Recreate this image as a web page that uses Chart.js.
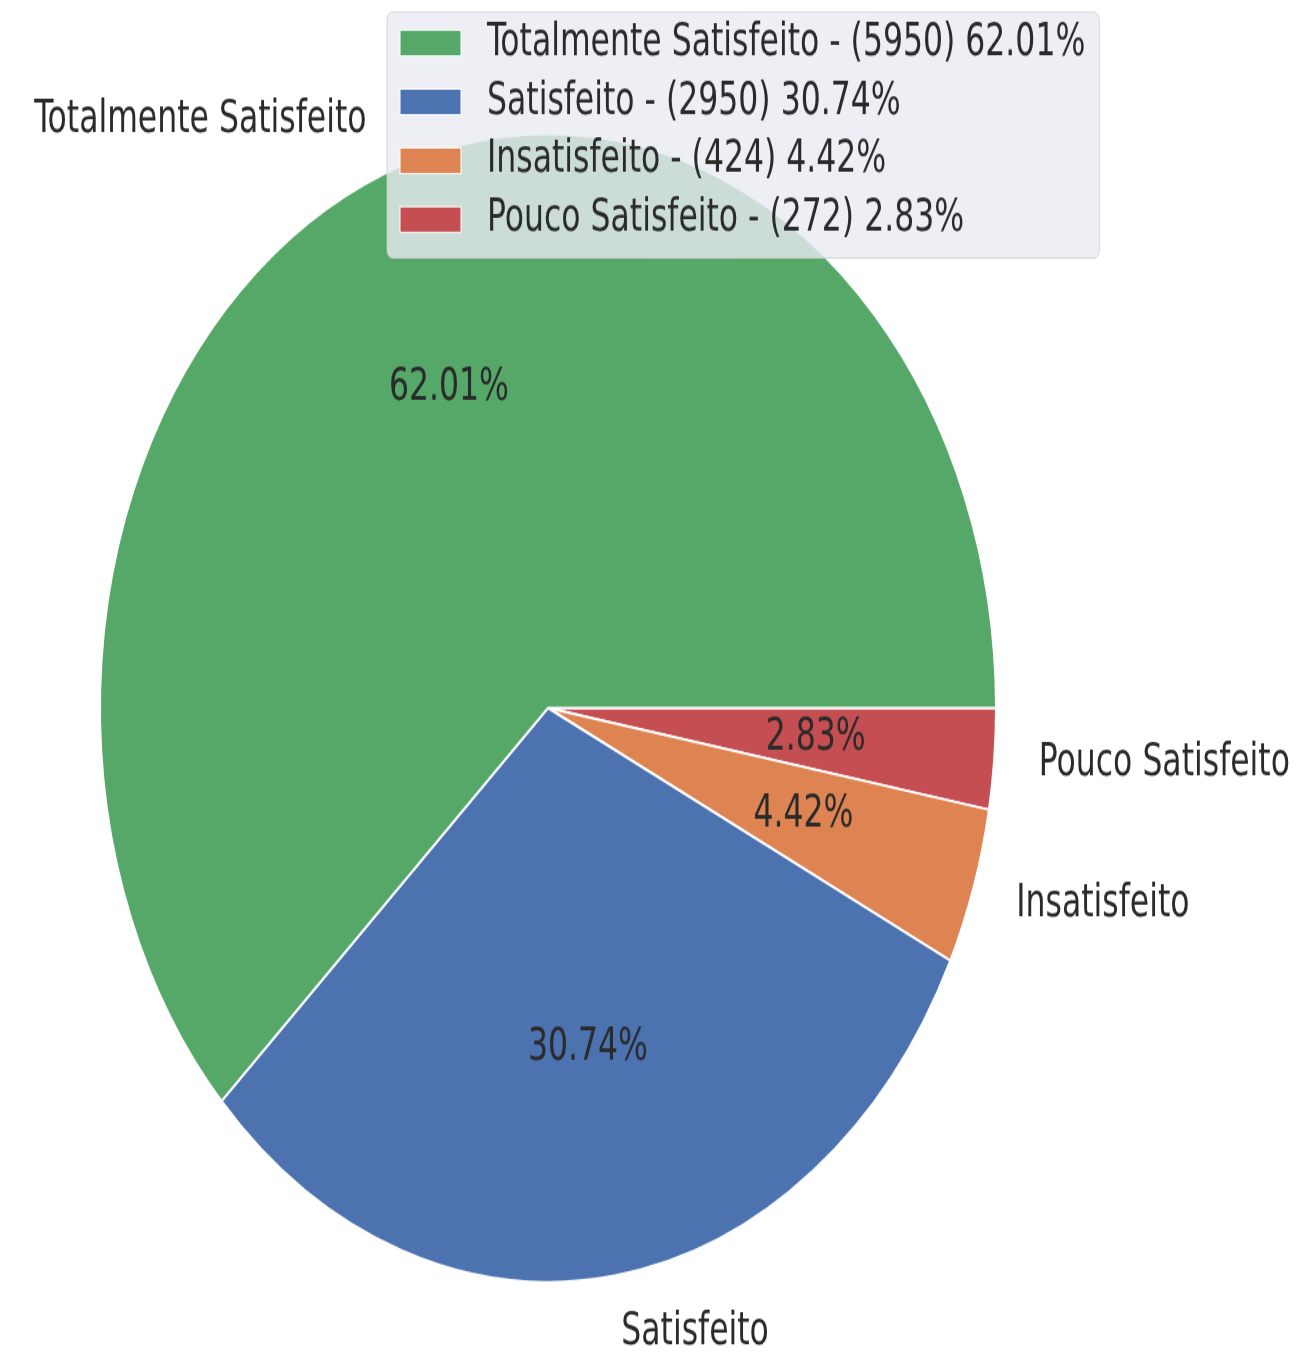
<!DOCTYPE html>
<html lang="pt">
<head>
<meta charset="utf-8">
<title>Satisfação</title>
<style>
  html, body { margin: 0; padding: 0; background: #fff; overflow: hidden; }
  /* the reference picture is stretched vertically, so the whole canvas is too */
  #pie { position: absolute; left: 0; top: 0; transform: scaleY(1.2814); transform-origin: 0 0; }
</style>
</head>
<body>
<canvas id="pie" width="1300" height="1059"></canvas>

<script src="https://cdn.jsdelivr.net/npm/chart.js@4/dist/chart.umd.min.js"></script>
<script>
// data, in the order the legend shows it
const categories = ['Totalmente Satisfeito', 'Satisfeito', 'Insatisfeito', 'Pouco Satisfeito'];
const counts = [5950, 2950, 424, 272];
const colors = ['#55A868', '#4C72B0', '#DD8452', '#C44E52'];

const total = counts.reduce((a, b) => a + b, 0);
const pcts = counts.map(v => (v / total * 100).toFixed(2));

const FONT = '35px "DejaVu Sans Condensed", "DejaVu Sans", sans-serif';
const TEXT = '#2a2a2a';

// matplotlib goes counter-clockwise from 3 o'clock, Chart.js goes clockwise,
// so feed the slices reversed
const order = categories.map((_, i) => categories.length - 1 - i);

const labelsPlugin = {
  id: 'pieLabels',
  afterDatasetsDraw(chart) {
    const ctx = chart.ctx;
    const meta = chart.getDatasetMeta(0);
    ctx.save();
    ctx.font = FONT;
    ctx.fillStyle = TEXT;
    ctx.textBaseline = 'middle';
    meta.data.forEach((arc, j) => {
      const i = order[j];
      const p = arc.getProps(['x', 'y', 'startAngle', 'endAngle', 'outerRadius']);
      const mid = (p.startAngle + p.endAngle) / 2;
      const c = Math.cos(mid), s = Math.sin(mid);
      const r = p.outerRadius;
      ctx.textAlign = c >= 0 ? 'left' : 'right';
      ctx.fillText(categories[i], p.x + 1.1 * r * c, p.y + 1.1 * r * s);
      ctx.textAlign = 'center';
      ctx.fillText(pcts[i] + '%', p.x + 0.6 * r * c, p.y + 0.6 * r * s);
    });

    // legend box drawn over the pie, like matplotlib's "best" spot here
    const bx = 387, by = 9.4, rowH = 45.9, firstRow = 33.6;
    const texts = categories.map((c, i) => `${c} - (${counts[i]}) ${pcts[i]}%`);
    const textX = 487;
    const maxW = Math.max(...texts.map(t => ctx.measureText(t).width));
    const bw = textX + maxW + 14 - bx;
    const bh = 192;
    ctx.beginPath();
    ctx.roundRect(bx, by, bw, bh, 6);
    ctx.fillStyle = 'rgba(234,234,242,0.8)';
    ctx.fill();
    ctx.strokeStyle = 'rgba(204,204,204,0.8)';
    ctx.lineWidth = 1;
    ctx.stroke();

    texts.forEach((t, i) => {
      const y = firstRow + i * rowH;
      ctx.fillStyle = colors[i];
      ctx.fillRect(400, y - 10, 61, 20);
      ctx.strokeStyle = '#fff';
      ctx.lineWidth = 1;
      ctx.strokeRect(400, y - 10, 61, 20);
      ctx.fillStyle = TEXT;
      ctx.textAlign = 'left';
      ctx.fillText(t, textX, y);
    });
    ctx.restore();
  }
};

new Chart(document.getElementById('pie'), {
  type: 'pie',
  data: {
    labels: order.map(i => categories[i]),
    datasets: [{
      data: order.map(i => counts[i]),
      backgroundColor: order.map(i => colors[i]),
      borderColor: '#ffffff',
      borderWidth: 2
    }]
  },
  options: {
    responsive: false,
    animation: false,
    rotation: 90,
    layout: { padding: { left: 99, right: 303, top: 103.5, bottom: 57.5 } },
    plugins: {
      legend: { display: false },
      tooltip: { enabled: false }
    }
  },
  plugins: [labelsPlugin]
});
</script>
</body>
</html>
